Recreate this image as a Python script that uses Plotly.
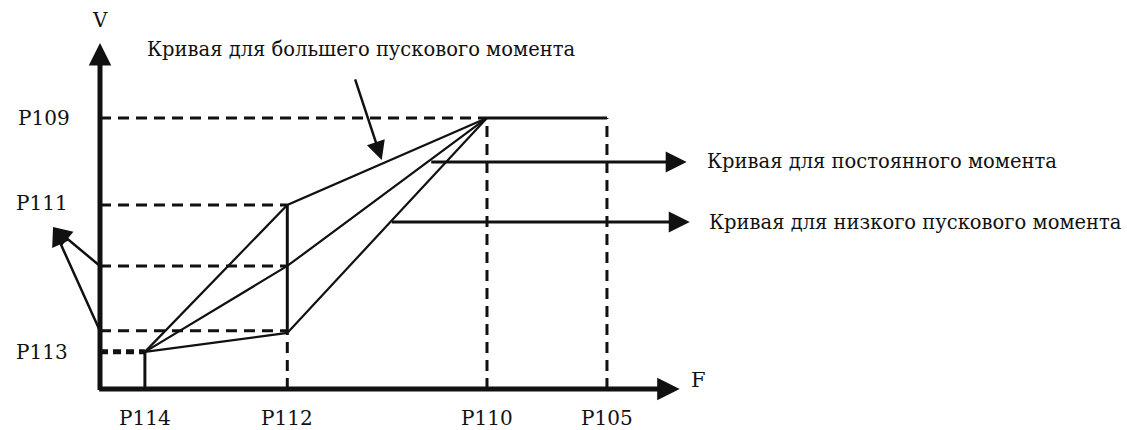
import plotly.graph_objects as go

# ---- data (F in Hz-like units, V in % of P109) ----
f_names = ["P114", "P112", "P110", "P105"]
f_vals = [5.8, 24.2, 50.0, 65.5]
v_names = ["P113", "P111", "P109"]
v_p113 = 13.7
v_p111 = 67.9
v_p109 = 100.0
v_mid = 45.4
v_low = 20.7

curve_high_F = [5.8, 24.2, 50.0]
curve_high_V = [13.7, 67.9, 100.0]
curve_const_F = [5.8, 24.2, 50.0]
curve_const_V = [13.7, 45.4, 100.0]
curve_low_F = [5.8, 24.2, 50.0]
curve_low_V = [13.7, 20.7, 100.0]

label_high = "Кривая для большего пускового момента"
label_const = "Кривая для постоянного момента"
label_low = "Кривая для низкого пускового момента"

FONT = "DejaVu Serif"
BLACK = "#111111"

fig = go.Figure()

def line(xs, ys, width=2, dash=None):
    fig.add_trace(go.Scatter(x=xs, y=ys, mode="lines",
                             line=dict(color=BLACK, width=width, dash=dash),
                             hoverinfo="skip", showlegend=False))

DASH = "11px,7px"
# horizontal dashed guides
line([0, f_vals[2]], [v_p109, v_p109], 3, DASH)
line([0, f_vals[1]], [v_p111, v_p111], 3, DASH)
line([0, f_vals[1]], [v_mid, v_mid], 3, DASH)
line([0, f_vals[1]], [v_low + 0.8, v_low + 0.8], 3, DASH)
line([0, f_vals[0]], [v_p113, v_p113], 5, "8px,5px")
# vertical dashed guides
line([f_vals[2], f_vals[2]], [0, v_p109], 3, DASH)
line([f_vals[3], f_vals[3]], [0, v_p109], 3, DASH)
line([f_vals[1], f_vals[1]], [0, v_low], 3, DASH)
# solid verticals / horizontal
line([f_vals[0], f_vals[0]], [0, v_p113], 3)
line([f_vals[1], f_vals[1]], [v_low, v_p111], 3)
line([f_vals[2], f_vals[3]], [v_p109, v_p109], 3)
# curves
line(curve_high_F, curve_high_V, 2.2)
line(curve_const_F, curve_const_V, 2.2)
line(curve_low_F, curve_low_V, 2.2)

def arrow(x, y, ax, ay, width=2, size=1.3, head=2):
    fig.add_annotation(x=x, y=y, ax=ax, ay=ay, xref="x", yref="y", axref="x", ayref="y",
                       showarrow=True, arrowhead=head, arrowsize=size, arrowwidth=width,
                       arrowcolor=BLACK, standoff=0, startstandoff=0, text="")

# axes
arrow(0, 127.7, 0, -0.9, width=5, size=0.9)
arrow(74.9, 0, -0.3, 0, width=5, size=0.9)
# label arrows
arrow(36.4, 84.5, 32.9, 114.8, width=2.5, size=1.5)
arrow(75.8, 83.8, 42.6, 83.8, width=3, size=1.4)
arrow(76.2, 61.6, 37.5, 61.6, width=3, size=1.4)
arrow(-6.07, 59.8, 0, 45.4, width=2.5, size=1.5)
arrow(-6.07, 59.8, 0, 21.4, width=2.5, size=1.5)

def text(x, y, s, size=17, xanchor="center"):
    fig.add_annotation(x=x, y=y, xref="x", yref="y", text=s, showarrow=False,
                       xanchor=xanchor, yanchor="middle",
                       font=dict(family=FONT, size=size, color=BLACK))

text(0, 136.0, "V", 20)
text(77.3, 3.3, "F", 21)
text(-7.2, v_p109, "P109", 20)
text(-7.45, 68.6, "P111", 20)
text(-7.45, v_p113, "P113", 20)
for n, v in zip(f_names, f_vals):
    text(v, -10.7, n, 20)
text(5.8, 125.1, label_high, 19.5, "left")
text(78.2, 83.8, label_const, 19.5, "left")
text(78.4, 61.6, label_low, 19.5, "left")

fig.update_layout(
    width=1127, height=430,
    margin=dict(l=0, r=0, t=0, b=0),
    paper_bgcolor="white", plot_bgcolor="white",
    xaxis=dict(range=[-12.92, 132.69], visible=False, fixedrange=True),
    yaxis=dict(range=[-15.13, 143.54], visible=False, fixedrange=True),
    showlegend=False,
)
fig.write_html("out.html", config={"displayModeBar": False},
               post_script="document.body.style.margin='0';document.body.style.overflow='hidden';")
